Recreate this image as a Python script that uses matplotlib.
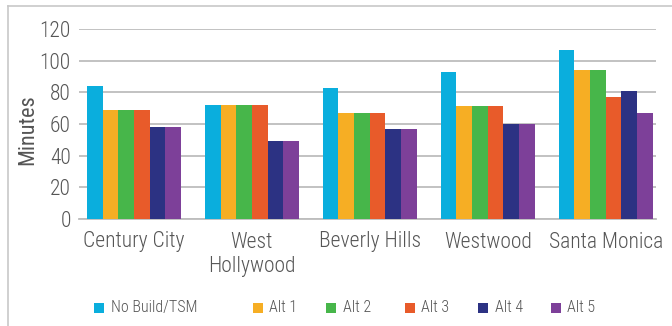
import matplotlib
matplotlib.use("Agg")
import matplotlib.pyplot as plt
from matplotlib.patches import Rectangle
from matplotlib.lines import Line2D
from matplotlib import font_manager as fm
import numpy as np

_avail = {f.name for f in fm.fontManager.ttflist}
_pref = ['Roboto Condensed', 'Archivo Narrow', 'PT Sans Narrow', 'Liberation Sans Narrow', 'Liberation Sans']
_font = next((p for p in _pref if p in _avail), 'DejaVu Sans')
plt.rcParams['font.family'] = [_font, 'DejaVu Sans']
plt.rcParams['font.weight'] = 300

categories = ["Century City", "West\nHollywood", "Beverly Hills", "Westwood", "Santa Monica"]
series_names = ["No Build/TSM", "Alt 1", "Alt 2", "Alt 3", "Alt 4", "Alt 5"]
no_build = [84, 72, 83, 93, 107]
alt1 = [69, 72, 67, 71.5, 94]
alt2 = [69, 72, 67, 71.5, 94]
alt3 = [69, 72, 67, 71.5, 77]
alt4 = [58, 49, 57, 60, 81]
alt5 = [58, 49, 57, 60, 67]
yticks = [0, 20, 40, 60, 80, 100, 120]

series = [no_build, alt1, alt2, alt3, alt4, alt5]
colors = ["#0AAEDD", "#F6AE24", "#47B64A", "#E85B2A", "#2C3283", "#7D4099"]
text_color = "#555555"

fig = plt.figure(figsize=(6.72, 3.26), dpi=100)
ax = fig.add_axes([79/672, 1-219/326, (656-79)/672, (219-29)/326])

x = np.arange(len(categories))
w = 0.133
for i, (vals, c) in enumerate(zip(series, colors)):
    ax.bar(x + (i - 2.5) * w, vals, width=w, color=c, zorder=3, linewidth=0)

ax.set_ylim(0, 120)
ax.set_xlim(-0.466, 4.427)
ax.set_yticks(yticks)
ax.yaxis.grid(True, color="#BDBDBD", linewidth=1.3, zorder=0)
ax.set_axisbelow(True)
for s in ["top", "right", "left"]:
    ax.spines[s].set_visible(False)
ax.spines["bottom"].set_color("#BDBDBD")
ax.spines["bottom"].set_linewidth(1.3)
ax.tick_params(axis="both", length=0, colors=text_color, labelsize=15.5)
ax.tick_params(axis="y", pad=6)
ax.tick_params(axis="x", pad=9)
ax.set_xticks(x)
ax.set_xticklabels(categories, linespacing=1.2)
ax.set_ylabel("Minutes", fontsize=16, color=text_color)
ax.yaxis.set_label_coords((38-79)/577, (219-130)/190)

# outer border (top and left)
fig.add_artist(Line2D([8/672, 1], [1-6/326, 1-6/326], color="#C8C8C8", linewidth=1.2))
fig.add_artist(Line2D([8/672, 8/672], [0, 1-6/326], color="#C8C8C8", linewidth=1.2))

# legend
sq_x = [94, 253, 326, 405, 478, 551]
txt_x = [111, 269, 343, 421, 495, 567]
leg_y = 307.5
sq = 10
for name, c, sx, tx in zip(series_names, colors, sq_x, txt_x):
    fig.add_artist(Rectangle((sx/672, 1-(leg_y+sq/2)/326), sq/672, sq/326,
                             facecolor=c, edgecolor="none", transform=fig.transFigure))
    fig.text(tx/672, 1-leg_y/326, name, fontsize=11.5, color=text_color,
             va="center", ha="left")

fig.savefig("out.png", dpi=100)
